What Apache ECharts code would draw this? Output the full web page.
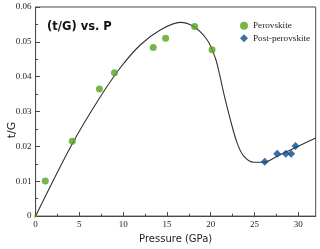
<!DOCTYPE html>
<html><head><meta charset="utf-8">
<script src="https://cdn.jsdelivr.net/npm/echarts@6/dist/echarts.min.js"></script>
<style>html,body{margin:0;padding:0;background:#fff}#c{width:320px;height:249px}</style>
</head><body><div id="c"></div>
<script>
// Perovskite measurements
const perovP  = [0, 1.11, 4.20, 7.29, 9.01, 13.44, 14.85, 18.17, 20.16];
const perovTG = [0, 0.0101, 0.0215, 0.0365, 0.0411, 0.0484, 0.0510, 0.0544, 0.0477];
// Post-perovskite measurements
const postP  = [26.18, 27.60, 28.58, 29.20, 29.69];
const postTG = [0.0156, 0.0179, 0.0179, 0.0179, 0.0201];
// fitted curve
const curveP  = [0, 4.13, 7.18, 9.66, 11.95, 14.24, 16.53, 18.05, 19.59, 20.54, 21.03, 21.49, 22.25, 23.02, 23.78, 24.92, 26.06, 27.60, 29.89, 32];
const curveTG = [0, 0.0205, 0.0334, 0.0425, 0.0491, 0.0534, 0.0556, 0.0544, 0.0506, 0.0453, 0.0405, 0.0353, 0.0277, 0.0210, 0.0172, 0.01545, 0.01545, 0.0172, 0.0199, 0.0224];
const xTicks = [0, 5, 10, 15, 20, 25, 30];
const xMinorTicks = [2.5, 7.5, 12.5, 17.5, 22.5, 27.5];

const zip = (a, b) => a.map((v, i) => [v, b[i]]);
const axisCol = '#4a4a4a';
const serif = 'Liberation Serif';

const chart = echarts.init(document.getElementById('c'), null, {renderer: 'canvas'});
chart.setOption({
  animation: false,
  title: {
    text: '(t/G) vs. P', left: 42, top: 16,
    textStyle: {fontFamily: 'DejaVu Sans', fontWeight: 'bold', fontSize: 11.5, color: '#111'}
  },
  grid: {left: 35.6, top: 7, right: 4.3, bottom: 32.3, show: true, borderColor: axisCol, borderWidth: 1},
  legend: {
    orient: 'vertical', left: 235, top: 15.2, itemWidth: 8, itemHeight: 8, itemGap: 1.6,
    data: ['Perovskite', 'Post-perovskite'],
    textStyle: {fontFamily: serif, fontSize: 9.2, lineHeight: 11, color: '#222'}
  },
  xAxis: [{
    type: 'value', min: 0, max: 32, interval: 5,
    name: 'Pressure (GPa)', nameLocation: 'middle', nameGap: 16,
    nameTextStyle: {fontFamily: 'DejaVu Sans', fontSize: 10, color: '#222'},
    axisLine: {show: true, lineStyle: {color: axisCol}},
    axisTick: {inside: true, length: 4, lineStyle: {color: axisCol}, customValues: xTicks},
    axisLabel: {fontFamily: serif, fontSize: 9, color: '#222', margin: 4, customValues: xTicks},
    splitLine: {show: false}
  }, {
    type: 'value', min: 0, max: 32, position: 'bottom', offset: 0,
    axisLine: {show: true, lineStyle: {color: axisCol}},
    axisTick: {show: true, inside: true, length: 2.4, lineStyle: {color: axisCol}, customValues: xMinorTicks},
    axisLabel: {show: false},
    splitLine: {show: false}
  }],
  yAxis: {
    type: 'value', min: 0, max: 0.06, interval: 0.01,
    axisLine: {show: true, lineStyle: {color: axisCol}},
    axisTick: {inside: true, length: 4.5, lineStyle: {color: axisCol}},
    minorTick: {show: true, splitNumber: 2, length: 2.5, lineStyle: {color: axisCol}},
    axisLabel: {fontFamily: serif, fontSize: 9, color: '#222', margin: 4,
      formatter: v => (v === 0 ? '0' : v.toFixed(2))},
    splitLine: {show: false}
  },
  graphic: [{
    type: 'text', x: 12, y: 130, rotation: Math.PI / 2,
    style: {text: 't/G', fontFamily: 'DejaVu Sans', fontSize: 11, fill: '#222', align: 'center', verticalAlign: 'middle'}
  }],
  series: [{
    type: 'line', name: 'fit', data: zip(curveP, curveTG), smooth: 0.35, showSymbol: false,
    lineStyle: {color: '#333', width: 1.1}, z: 1, silent: true
  }, {
    type: 'scatter', name: 'Perovskite', symbol: 'circle', symbolSize: 7,
    data: zip(perovP, perovTG).map(d => (d[0] === 0 ? {value: d, symbolSize: 3} : d)),
    itemStyle: {color: '#58a21e'}, z: 3
  }, {
    type: 'scatter', name: 'Post-perovskite', symbol: 'diamond', symbolSize: 8,
    data: zip(postP, postTG),
    itemStyle: {color: '#0f4a8e'}, z: 3
  }]
});
</script></body></html>
